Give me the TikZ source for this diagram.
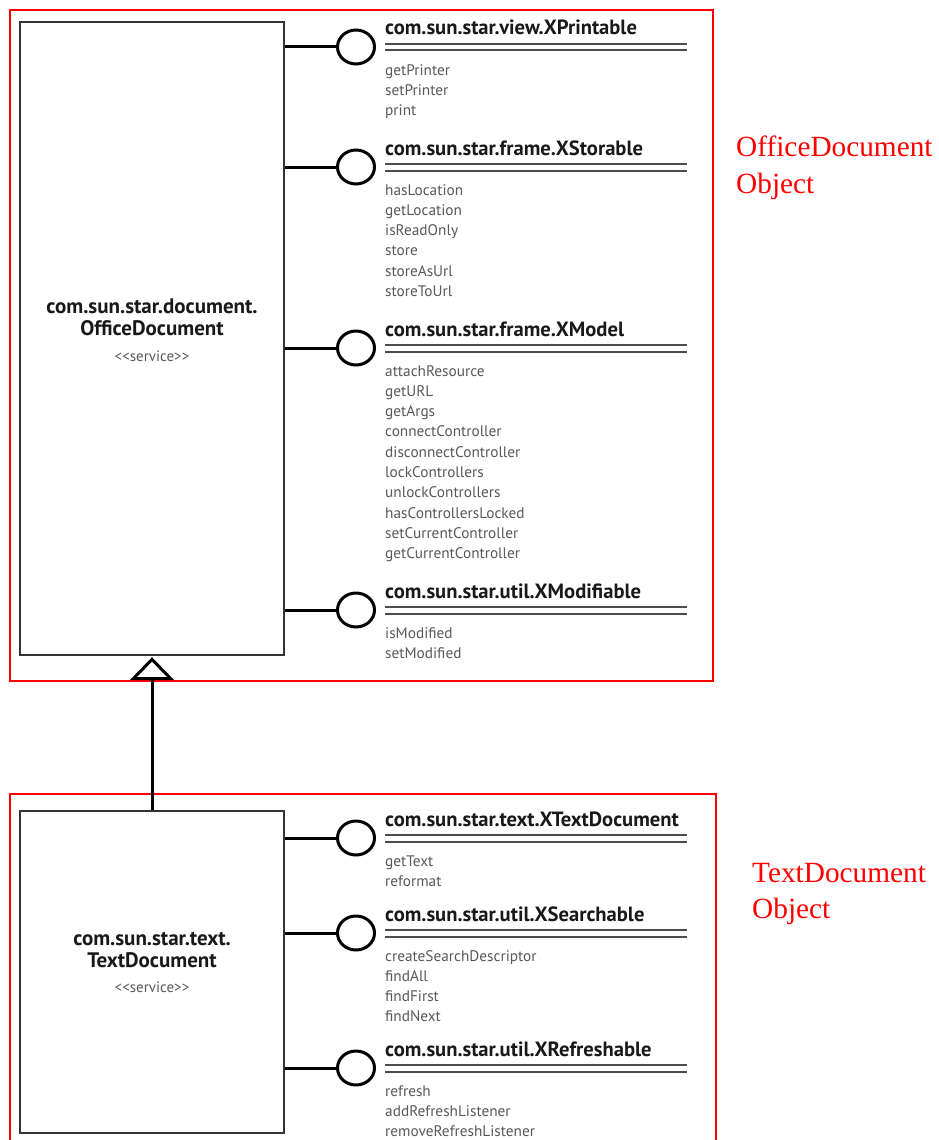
\documentclass[tikz,border=0pt]{standalone}
\usepackage{fontspec}
\setmainfont{Liberation Serif}
\newfontfamily\uisans{PT Sans}
\usetikzlibrary{arrows.meta,shapes.geometric}

% one interface: #1 name, #2 service node, #3 title baseline, #4 title, #5 methods
\newcommand\ifaceblock[5]{%
  \node[iface] (#1-c) at (356,#3+12) {};
  \draw[link] (#2.east |- #1-c) -- (#1-c.west);
  \node[ititle] (#1-t) at (385,#3) {#4};
  \draw[rule] (385,#3+9) -- (687,#3+9);
  \draw[rule] (385,#3+15.5) -- (687,#3+15.5);
  \foreach \m [count=\i] in {#5}
    \node[method] (#1-m\i) at (385,#3+40+20.3*\i-20.3) {\m};
}

\begin{document}
\begin{tikzpicture}[x=1pt,y=-1pt,
  frame/.style={draw=red, line width=1.8pt},
  svc/.style={draw=black!80, line width=2.4pt, inner sep=0pt, minimum width=264pt},
  iface/.style={ellipse, draw=black, line width=3pt, fill=white,
                minimum width=37pt, minimum height=34pt, inner sep=0pt},
  link/.style={line width=3pt},
  rule/.style={draw=black!70, line width=2pt},
  ititle/.style={anchor=base west, inner sep=0pt, text=black!90,
                 font=\uisans\bfseries\fontsize{20.6}{20}\selectfont},
  method/.style={anchor=base west, inner sep=0pt, text=black!65,
                 font=\uisans\fontsize{15.3}{16}\selectfont},
  svctitle/.style={anchor=base, inner sep=0pt, text=black!90,
                   font=\uisans\bfseries\fontsize{21}{20}\selectfont},
  stereo/.style={anchor=base, inner sep=0pt, text=black!65,
                 font=\uisans\fontsize{15}{16}\selectfont},
  objlabel/.style={anchor=base west, inner sep=0pt, text=red,
                   font=\fontsize{29.3}{30}\selectfont},
  inherit/.style={line width=3pt, shorten >=1pt,
                  -{Triangle[open, length=23pt, width=44pt]}}
]
\fill[white] (0,0) rectangle (938,1140);
\clip (0,0) rectangle (938,1140);

% grouping frames
\draw[frame] (10,10) rectangle (713,681);
\draw[frame] (10,1150) -- (10,794) -- (716,794) -- (716,1150);

% service boxes
\node[svc, minimum height=633pt] (office) at (152,338.5) {};
\node[svc, minimum height=322pt] (text) at (152,972) {};

\node[svctitle] (office-l1) at (152,313) {com.sun.star.document.};
\node[svctitle] (office-l2) at (152,335) {OfficeDocument};
\node[stereo]   (office-l3) at (152,361) {<{}<service>{}>};

\node[svctitle] (text-l1) at (152,945) {com.sun.star.text.};
\node[svctitle] (text-l2) at (152,967) {TextDocument};
\node[stereo]   (text-l3) at (152,992) {<{}<service>{}>};

% inheritance
\draw[inherit] (text.north) -- (office.south);

% interfaces of OfficeDocument
\ifaceblock{print}{office}{35}{com.sun.star.view.XPrintable}%
  {getPrinter,setPrinter,print}
\ifaceblock{store}{office}{155}{com.sun.star.frame.XStorable}%
  {hasLocation,getLocation,isReadOnly,store,storeAsUrl,storeToUrl}
\ifaceblock{model}{office}{336}{com.sun.star.frame.XModel}%
  {attachResource,getURL,getArgs,connectController,disconnectController,
   lockControllers,unlockControllers,hasControllersLocked,
   setCurrentController,getCurrentController}
\ifaceblock{modif}{office}{598}{com.sun.star.util.XModifiable}%
  {isModified,setModified}

% interfaces of TextDocument
\ifaceblock{tdoc}{text}{826}{com.sun.star.text.XTextDocument}%
  {getText,reformat}
\ifaceblock{search}{text}{921}{com.sun.star.util.XSearchable}%
  {createSearchDescriptor,findAll,findFirst,findNext}
\ifaceblock{refresh}{text}{1056}{com.sun.star.util.XRefreshable}%
  {refresh,addRefreshListener,removeRefreshListener}

% object labels
\node[objlabel] (obj1a) at (736,156) {OfficeDocument};
\node[objlabel] (obj1b) at (736,193) {Object};
\node[objlabel] (obj2a) at (752,882) {TextDocument};
\node[objlabel] (obj2b) at (752,918) {Object};
\end{tikzpicture}
\end{document}
